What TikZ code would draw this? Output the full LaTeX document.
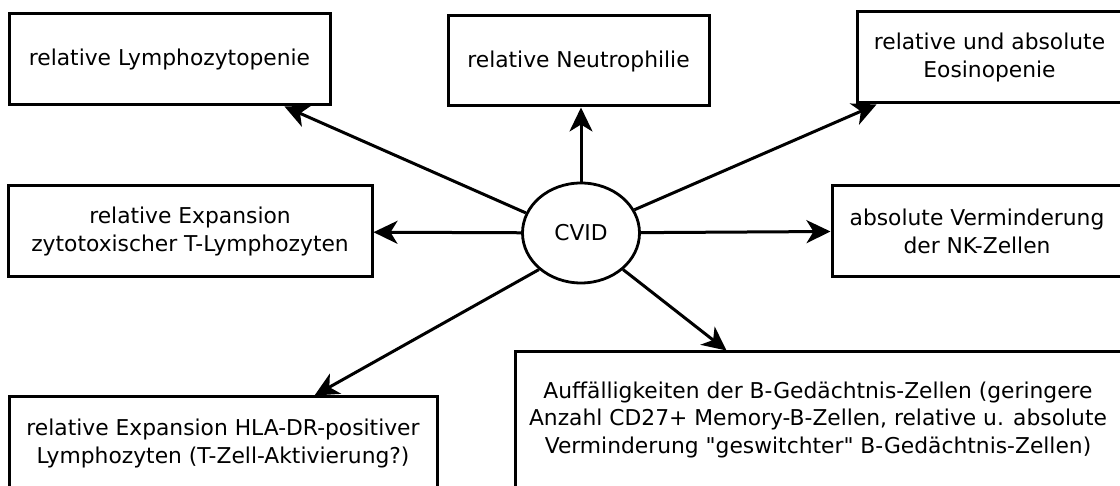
\documentclass[tikz,border=0pt]{standalone}
\usepackage{fontspec}
\setmainfont{DejaVu Sans}
\usetikzlibrary{arrows.meta, positioning, shapes.geometric}
\tikzset{
  cvbox/.style={
    rectangle, draw=black, line width=3pt, fill=white, text=black,
    align=center, inner sep=0pt, font=\fontsize{21.8}{27.5}\selectfont},
  cvcore/.style={
    ellipse, draw=black, line width=2.8pt, fill=white, text=black,
    inner sep=0pt, minimum width=117pt, minimum height=100pt,
    font=\fontsize{21.8}{27.5}\selectfont},
  cvarr/.style={-{Stealth[length=24pt,width=23pt,inset=7pt]}, line width=3pt, draw=black},
}

\begin{document}
\begin{tikzpicture}[x=1pt, y=-1pt]
  \useasboundingbox (0,0) rectangle (1120,486);
  \clip (0,0) rectangle (1120,486);
  %% Centre
  \node[cvcore] (cvid) at (581,233) {CVID};
  %% Top row
  \node[cvbox, minimum width=321pt, minimum height=91pt] (lympho) at (169.5,59.5)
        {relative Lymphozytopenie};
  \node[cvbox, minimum width=261pt, minimum height=90pt] (neutro) at (578.5,61)
        {relative Neutrophilie};
  \node[cvbox, minimum width=265pt, minimum height=91pt] (eosino) at (989.5,57.5)
        {relative und absolute\\Eosinopenie};
  %% Middle row
  \node[cvbox, minimum width=364pt, minimum height=91pt] (zyto) at (190,231.5)
        {relative Expansion\\zytotoxischer T-Lymphozyten};
  \node[cvbox, minimum width=290pt, minimum height=91pt] (nk) at (977,231.5)
        {absolute Verminderung\\der NK-Zellen};
  %% Bottom row
  \node[cvbox, minimum width=428pt, minimum height=93pt] (hla) at (223,443.5)
        {relative Expansion HLA-DR-positiver\\Lymphozyten (T-Zell-Aktivierung?)};
  \node[cvbox, minimum width=606pt, minimum height=135pt] (bgz) at (818,419.5)
        {Auffälligkeiten der B-Gedächtnis-Zellen (geringere\\Anzahl CD27+ Memory-B-Zellen, relative u. absolute\\Verminderung \textquotedbl geswitchter\textquotedbl{} B-Gedächtnis-Zellen)};
  %% Arrows
  \draw[cvarr](cvid.160)--([xshift=-47pt]lympho.south east);
  \draw[cvarr](cvid.north)--(cvid.north |- neutro.south);
  \draw[cvarr](cvid)--([xshift=21pt]eosino.south west);
  \draw[cvarr](cvid)--(zyto);
  \draw[cvarr](cvid)--(nk.west);
  \draw[cvarr](cvid.221)--([xshift=-124pt]hla.north east);
  \draw[cvarr](cvid.319)--([xshift=213pt]bgz.north west);
\end{tikzpicture}
\end{document}
